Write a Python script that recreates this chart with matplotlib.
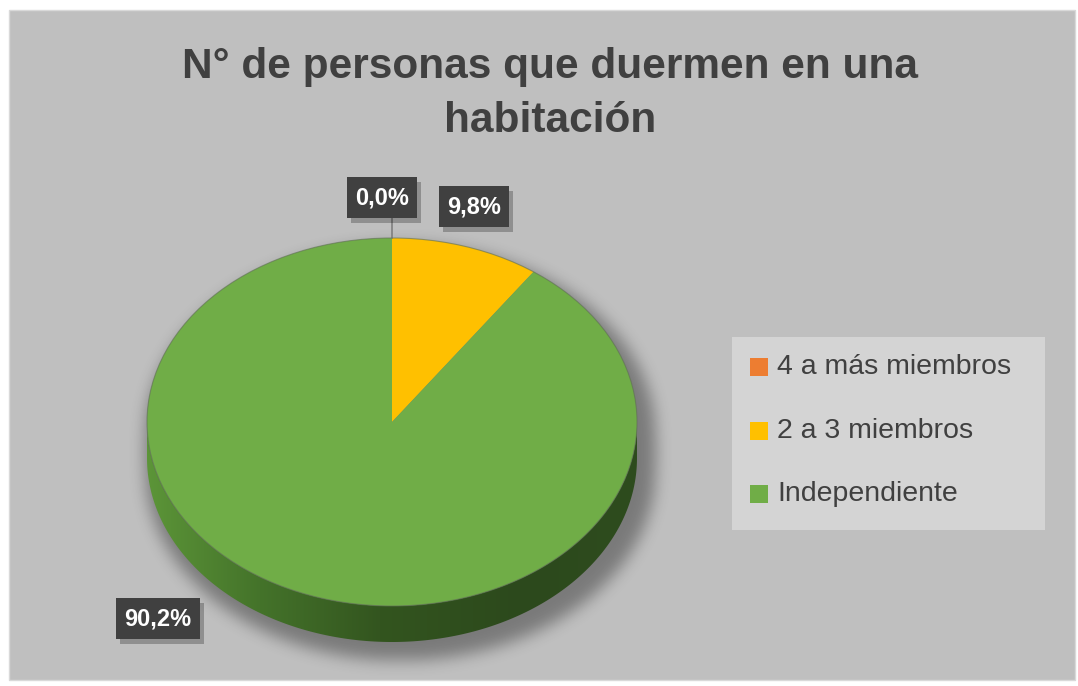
import numpy as np
import matplotlib.pyplot as plt
from matplotlib.patches import Rectangle, Polygon, Ellipse
from matplotlib.colors import to_rgb

# data
categorias = ['4 a más miembros', '2 a 3 miembros', 'Independiente']
valores = [0.0, 9.8, 90.2]
colores = ['#ED7D31', '#FFC000', '#70AD47']
titulo = 'N° de personas que duermen en una\nhabitación'

W, H = 1078, 686
fig = plt.figure(figsize=(W / 100, H / 100), dpi=100)
ax = fig.add_axes([0, 0, 1, 1])
ax.set_xlim(0, W)
ax.set_ylim(H, 0)
ax.axis('off')

# fondo del grafico
ax.add_patch(Rectangle((9, 10), 1066, 670, facecolor='#BFBFBF', edgecolor='#D9D9D9', lw=1, zorder=0))

# geometria del pastel 3D
cx, cy, rx, ry, prof = 392, 422, 245, 184, 36

# sombra difusa
yy, xx = np.mgrid[0:H, 0:W]
dx, dy = 8, 12
m1 = ((xx - cx - dx) / (rx + 10)) ** 2 + ((yy - cy - dy) / (ry + 6)) ** 2 <= 1
m2 = ((xx - cx - dx) / (rx + 10)) ** 2 + ((yy - cy - dy - prof) / (ry + 6)) ** 2 <= 1
m3 = (np.abs(xx - cx - dx) <= rx + 10) & (yy >= cy + dy) & (yy <= cy + dy + prof)
mask = (m1 | m2 | m3).astype(float)


def blur(a, r, n=3):
    for _ in range(n):
        k = np.ones(2 * r + 1) / (2 * r + 1)
        a = np.apply_along_axis(lambda v: np.convolve(v, k, mode='same'), 0, a)
        a = np.apply_along_axis(lambda v: np.convolve(v, k, mode='same'), 1, a)
    return a


sombra = blur(mask, 7)
img = np.zeros((H, W, 4))
img[..., 3] = 0.36 * sombra
ax.imshow(img, extent=(0, W, H, 0), zorder=1, interpolation='bilinear')

# lado del pastel (degradado)
t = np.linspace(np.pi, 0, 200)
arco_x = cx - rx * np.cos(np.pi - t)
arco_y = cy + ry * np.sin(t)
lado = np.concatenate([np.column_stack([arco_x, arco_y]),
                       np.column_stack([arco_x[::-1], arco_y[::-1] + prof])])
poly_lado = Polygon(lado, closed=True, facecolor='none', edgecolor='none', zorder=2)
ax.add_patch(poly_lado)
stops_x = [cx - rx, 260, 380, 520, cx + rx]
stops_c = ['#5C9538', '#44732A', '#33551F', '#2C491C', '#2E4C1E']
gx = np.linspace(cx - rx, cx + rx, 400)
grad = np.zeros((1, 400, 3))
for ch in range(3):
    grad[0, :, ch] = np.interp(gx, stops_x, [to_rgb(c)[ch] for c in stops_c])
im = ax.imshow(grad, extent=(cx - rx, cx + rx, cy + ry + prof + 2, cy - 2), aspect='auto',
               zorder=2, interpolation='bilinear')
im.set_clip_path(poly_lado)

# cara superior: cunas desde arriba en sentido horario
total = sum(valores)
ang = 0.0
for val, col in zip(valores, colores):
    if val <= 0:
        continue
    a0 = ang
    a1 = ang + 2 * np.pi * val / total
    th = np.linspace(a0, a1, 300)
    px = np.concatenate([[cx], cx + rx * np.sin(th)])
    py = np.concatenate([[cy], cy - ry * np.cos(th)])
    ax.add_patch(Polygon(np.column_stack([px, py]), closed=True, facecolor=col,
                         edgecolor='none', zorder=3))
    ang = a1
ax.add_patch(Ellipse((cx, cy), 2 * rx, 2 * ry, facecolor='none', edgecolor='#5f6f55',
                     lw=0.8, alpha=0.6, zorder=4))

# linea guia
ax.plot([cx, cx], [218, cy - ry], color='#7F7F7F', lw=1.2, zorder=3)

# etiquetas de datos
etq_pos = [(382, 197), (474, 206), (158, 618)]
etq_w = [70, 70, 84]
for val, (lx, ly), w in zip(valores, etq_pos, etq_w):
    txt = f'{val:.1f}%'.replace('.', ',')
    ax.add_patch(Rectangle((lx - w / 2 + 4, ly - 20 + 5), w, 41, facecolor='black',
                           alpha=0.25, edgecolor='none', zorder=5))
    ax.add_patch(Rectangle((lx - w / 2, ly - 20), w, 41, facecolor='#404040',
                           edgecolor='none', zorder=6))
    ax.text(lx, ly + 1, txt, color='white', fontsize=17, fontweight='bold',
            family='Liberation Sans', ha='center', va='center', zorder=7)

# titulo
ax.text(550, 94, titulo, ha='center', va='center', fontsize=30.5, fontweight='bold',
        color='#404040', family='Liberation Sans', linespacing=1.42, zorder=5)

# leyenda
ax.add_patch(Rectangle((732, 337), 313, 193, facecolor='#D4D4D4', edgecolor='none', zorder=3))
ley_y = [367, 431, 494]
for cat, col, y in zip(categorias, colores, ley_y):
    ax.add_patch(Rectangle((750, y - 9), 18, 18, facecolor=col, edgecolor='none', zorder=4))
    ax.text(777, y, cat, fontsize=20.5, color='#404040', family='Liberation Sans',
            ha='left', va='center', zorder=4)

plt.savefig('out.png', dpi=100)
